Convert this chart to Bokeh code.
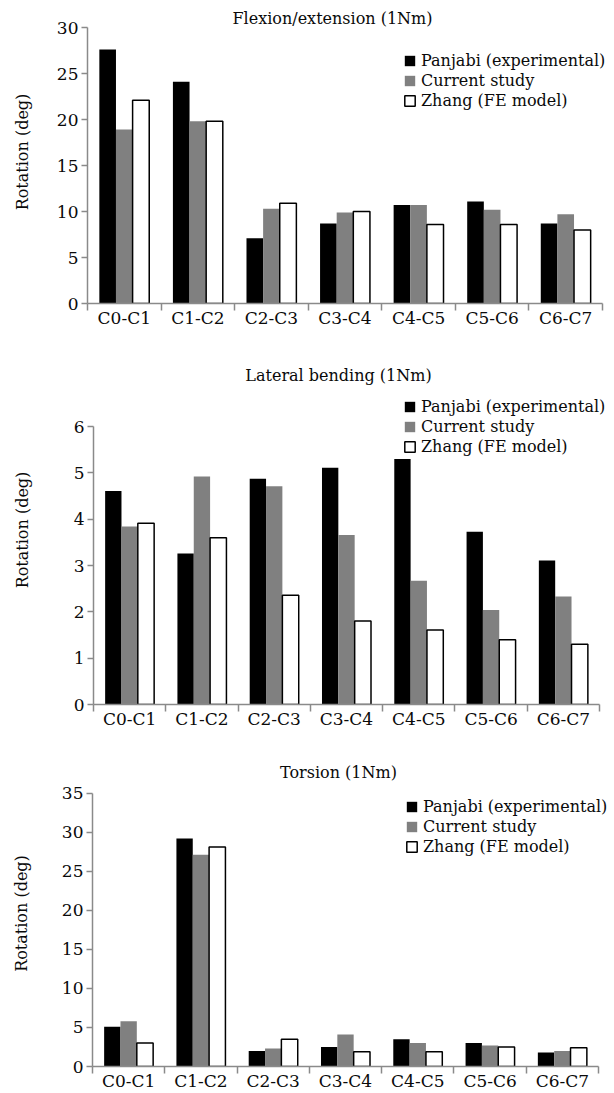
import math

from bokeh.embed import file_html
from bokeh.models import (ColumnDataSource, FixedTicker, Label, Legend,
                          LegendItem, Range1d)
from bokeh.plotting import figure
from bokeh.resources import INLINE

# Spinal segments on the x axis
segments = ["C0-C1", "C1-C2", "C2-C3", "C3-C4", "C4-C5", "C5-C6", "C6-C7"]
series_names = ["Panjabi (experimental)", "Current study", "Zhang (FE model)"]

# Flexion/extension (1Nm), rotation in degrees
panjabi_fe = [27.6, 24.1, 7.1, 8.7, 10.7, 11.1, 8.7]
current_fe = [18.9, 19.8, 10.3, 9.9, 10.7, 10.2, 9.7]
zhang_fe = [22.1, 19.8, 10.9, 10.0, 8.6, 8.6, 8.0]

# Lateral bending (1Nm)
panjabi_lb = [4.61, 3.26, 4.87, 5.11, 5.30, 3.73, 3.11]
current_lb = [3.84, 4.92, 4.71, 3.66, 2.67, 2.04, 2.33]
zhang_lb = [3.91, 3.60, 2.36, 1.80, 1.61, 1.40, 1.30]

# Torsion (1Nm)
panjabi_t = [5.1, 29.2, 2.0, 2.5, 3.5, 3.0, 1.8]
current_t = [5.8, 27.1, 2.3, 4.1, 3.0, 2.7, 2.0]
zhang_t = [3.0, 28.1, 3.5, 1.9, 1.9, 2.5, 2.4]

FONT = "DejaVu Serif"
AXIS_GREY = "#8a8a8a"
TEXT = "#0a0a0a"
BAR_W = 0.226
FIG_W = 614


def make_panel(title, series, y_max, y_step, height, axis_left, axis_right,
               axis_top, axis_bottom, title_xy, legend_xy, ylabel_standoff):
    """One grouped-bar panel. The plotting frame fills the figure above the
    x axis and right of the y axis; the axes are bounded to the data span so
    the title and legend can sit inside the frame without being clipped."""
    n = len(segments)
    px_per_unit = (axis_bottom - axis_top) / y_max
    y_end = axis_bottom / px_per_unit
    px_per_cat = (axis_right - axis_left) / n
    x_end = 0.5 + (FIG_W - axis_left) / px_per_cat

    p = figure(width=FIG_W, height=height, output_backend="svg",
               toolbar_location=None, title="",
               x_range=Range1d(0.5, x_end), y_range=Range1d(0, y_end),
               min_border_top=0, min_border_right=0,
               min_border_bottom=height - axis_bottom,
               min_border_left=axis_left)
    p.xgrid.visible = False
    p.ygrid.visible = False
    p.outline_line_color = None
    p.background_fill_color = "white"
    p.border_fill_color = "white"

    positions = list(range(1, n + 1))
    styles = [
        dict(fill_color="#000000", line_color=None),
        dict(fill_color="#808080", line_color=None),
        dict(fill_color="#ffffff", line_color="#000000", line_width=1.5),
    ]
    items = []
    for k, (name, vals, st) in enumerate(zip(series_names, series, styles)):
        src = ColumnDataSource(dict(
            x=[c + (k - 1) * BAR_W for c in positions], top=vals))
        r = p.vbar(x="x", top="top", width=BAR_W, bottom=0, source=src, **st)
        items.append(LegendItem(label=name, renderers=[r]))

    # x axis: category names centred, separator ticks between categories
    xa = p.xaxis[0]
    xa.bounds = (0.5, n + 0.5)
    xa.ticker = FixedTicker(ticks=positions,
                            minor_ticks=[c - 0.5 for c in positions] + [n + 0.5])
    xa.major_label_overrides = {c: s for c, s in zip(positions, segments)}
    xa.major_tick_out = 0
    xa.major_tick_in = 0
    xa.minor_tick_out = 7
    xa.minor_tick_in = 0
    xa.minor_tick_line_color = AXIS_GREY
    xa.minor_tick_line_width = 1.5
    xa.axis_line_color = AXIS_GREY
    xa.axis_line_width = 1.5
    xa.major_label_standoff = -3
    xa.major_label_text_font = FONT
    xa.major_label_text_font_size = "17px"
    xa.major_label_text_color = TEXT

    ya = p.yaxis[0]
    ya.bounds = (0, y_max)
    ya.ticker = FixedTicker(ticks=list(range(0, y_max + 1, y_step)))
    ya.major_tick_out = 6
    ya.major_tick_in = 0
    ya.minor_tick_line_color = None
    ya.major_tick_line_color = AXIS_GREY
    ya.major_tick_line_width = 1.5
    ya.axis_line_color = AXIS_GREY
    ya.axis_line_width = 1.5
    ya.major_label_standoff = 3
    ya.major_label_text_font = FONT
    ya.major_label_text_font_size = "17px"
    ya.major_label_text_color = TEXT
    ya.axis_label = "Rotation (deg)"
    ya.axis_label_text_font = FONT
    ya.axis_label_text_font_style = "normal"
    ya.axis_label_text_font_size = "16px"
    ya.axis_label_text_color = TEXT
    ya.axis_label_standoff = ylabel_standoff

    legend = Legend(items=items, location=legend_xy,
                    label_text_font=FONT, label_text_font_size="16px",
                    label_text_color=TEXT,
                    glyph_width=13, glyph_height=13, label_standoff=5,
                    label_height=20, spacing=0, padding=0, margin=0,
                    border_line_color=None, background_fill_alpha=0)
    p.add_layout(legend, "center")

    p.add_layout(Label(x=title_xy[0], y=title_xy[1], x_units="screen",
                       y_units="screen", text=title, text_align="center",
                       text_baseline="middle", text_font=FONT,
                       text_font_size="16px", text_color=TEXT))
    return p


p1 = make_panel("Flexion/extension (1Nm)", [panjabi_fe, current_fe, zhang_fe],
                30, 5, 355, 87, 602, 27, 303, (245, 285), (316, 193), 22)
p2 = make_panel("Lateral bending (1Nm)", [panjabi_lb, current_lb, zhang_lb],
                6, 1, 405, 93, 599, 71, 349, (245, 329), (310, 248), 39)
p3 = make_panel("Torsion (1Nm)", [panjabi_t, current_t, zhang_t],
                35, 5, 333, 92, 598, 33, 310, (246, 294), (313, 210), 28)

# Each panel is its own root so the three plot frames keep independent
# left edges; the roots stack top to bottom on the page.
open("out.html", "w").write(file_html([p1, p2, p3], INLINE))
